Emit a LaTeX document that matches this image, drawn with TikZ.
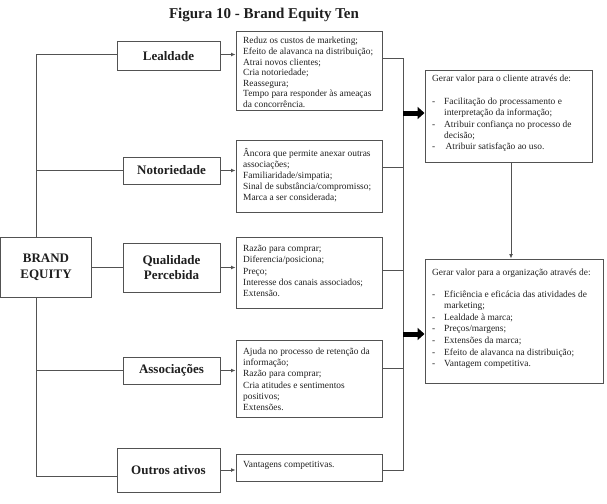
\documentclass[tikz,border=0pt]{standalone}
\usepackage{fontspec}
\setmainfont{Liberation Serif}
\usetikzlibrary{arrows.meta}
\definecolor{linecol}{gray}{0.32}
\definecolor{txtcol}{gray}{0.12}
\newcommand\dashitem[1]{\makebox[12pt][l]{-}#1}
\newcommand\dashcont[1]{\hspace*{12pt}#1}
\begin{document}
\begin{tikzpicture}[x=1pt,y=-1pt,
  box/.style={draw=linecol, line width=1pt, inner sep=0pt, text=txtcol},
  cat/.style={box, font=\fontsize{13}{15.8}\selectfont\bfseries, align=center},
  txt/.style={anchor=north west, inner sep=0pt, align=left, text=txtcol},
  conn/.style={draw=linecol, line width=1pt},
  arr/.style={conn, -{Latex[length=4.5pt,width=4pt]}},
  bigarr/.style={draw=black, line width=5pt, -{Triangle[length=7pt,width=12pt]}}]
\useasboundingbox (0,0) rectangle (607,503);

\node[font=\fontsize{15}{18}\selectfont\bfseries, text=txtcol] (title) at (264,15) {Figura 10 - Brand Equity Ten};

% main box
\node[cat, minimum width=91pt, minimum height=60pt] (be) at (46,267) {BRAND\\EQUITY};

% category boxes
\node[cat, minimum width=103pt, minimum height=28pt] (lc1) at (168.5,56) {Lealdade};
\node[cat, minimum width=97pt, minimum height=27pt] (lc2) at (171.5,170.5) {Notoriedade};
\node[cat, minimum width=97pt, minimum height=49pt] (lc3) at (171.5,267.5) {Qualidade\\Percebida};
\node[cat, minimum width=97pt, minimum height=27pt] (lc4) at (171.5,370.5) {Associações};
\node[cat, minimum width=103pt, minimum height=44pt] (lc5) at (168.5,470) {Outros ativos};

% description boxes
\node[box, minimum width=146pt, minimum height=78pt] (d1) at (309,71) {};
\node[box, minimum width=146pt, minimum height=72pt] (d2) at (309,176) {};
\node[box, minimum width=146pt, minimum height=71pt] (d3) at (309,272.5) {};
\node[box, minimum width=146pt, minimum height=77pt] (d4) at (309,378.5) {};
\node[box, minimum width=146pt, minimum height=27pt] (d5) at (309,467.5) {};

\node[txt, font=\fontsize{9.4}{10.6}\selectfont] (d1t) at (243,37.2)
  {Reduz os custos de marketing;\\Efeito de alavanca na distribuição;\\Atrai novos clientes;\\Cria notoriedade;\\Reassegura;\\Tempo para responder às ameaças\\da concorrência.};
\node[txt, font=\fontsize{9.4}{11.2}\selectfont] (d2t) at (243,147.8)
  {Âncora que permite anexar outras\\associações;\\Familiaridade/simpatia;\\Sinal de substância/compromisso;\\Marca a ser considerada;};
\node[txt, font=\fontsize{9.4}{11.4}\selectfont] (d3t) at (243,244.8)
  {Razão para comprar;\\Diferencia/posiciona;\\Preço;\\Interesse dos canais associados;\\Extensão.};
\node[txt, font=\fontsize{9.4}{11.3}\selectfont] (d4t) at (243,347.5)
  {Ajuda no processo de retenção da\\informação;\\Razão para comprar;\\Cria atitudes e sentimentos\\positivos;\\Extensões.};
\node[txt, font=\fontsize{9.4}{11.2}\selectfont] (d5t) at (243,461.5)
  {Vantagens competitivas.};

% value boxes
\node[box, minimum width=167pt, minimum height=92pt] (v1) at (508.5,116) {};
\node[box, minimum width=178pt, minimum height=124pt] (v2) at (514,321) {};

\node[txt, font=\fontsize{9.4}{11.4}\selectfont] (v1t) at (432,74.8)
  {Gerar valor para o cliente através de:\\[11.4pt]
   \dashitem{Facilitação do processamento e}\\
   \dashcont{interpretação da informação;}\\
   \dashitem{Atribuir confiança no processo de}\\
   \dashcont{decisão;}\\
   \dashitem{\hspace{1.5pt}Atribuir satisfação ao uso.}};
\node[txt, font=\fontsize{9.4}{11.55}\selectfont] (v2t) at (432,268.8)
  {Gerar valor para a organização através de:\\[10.2pt]
   \dashitem{Eficiência e eficácia das atividades de}\\
   \dashcont{marketing;}\\
   \dashitem{Lealdade à marca;}\\
   \dashitem{Preços/margens;}\\
   \dashitem{Extensões da marca;}\\
   \dashitem{Efeito de alavanca na distribuição;}\\
   \dashitem{Vantagem competitiva.}};

% left trunk
\coordinate (lt) at (36,0);
\coordinate (b1) at ([yshift=1.5pt]lc1.west);
\coordinate (b5) at ([yshift=-6pt]lc5.west);
\draw[conn] (lt |- be.north) -- (lt |- b1) -- (b1);
\draw[conn] (lt |- lc2.west) -- (lc2.west);
\draw[conn] (be.east) -- (be.east -| lc3.west);
\draw[conn] (lt |- lc4.west) -- (lc4.west);
\draw[conn] (lt |- be.south) -- (lt |- b5) -- (b5);

% arrows category -> description
\draw[arr] (b1 -| lc1.east) -- (b1 -| d1.west);
\draw[arr] (lc2.east) -- (lc2.east -| d2.west);
\draw[arr] (lc3.east) -- (lc3.east -| d3.west);
\draw[arr] (lc4.east) -- (lc4.east -| d4.west);
\draw[arr] (lc5.east) -- (lc5.east -| d5.west);

% right trunk
\coordinate (r1) at (403,59);
\coordinate (r2) at (403,167);
\coordinate (r3) at (403,270);
\coordinate (r4) at (403,368);
\coordinate (r5) at (403,470);
\draw[conn] (r1 -| d1.east) -- (r1) -- (r5) -- (r5 -| d5.east);
\draw[conn] (r2 -| d2.east) -- (r2);
\draw[conn] (r3 -| d3.east) -- (r3);
\draw[conn] (r4 -| d4.east) -- (r4);

% thick arrows
\coordinate (a1) at (403,113);
\coordinate (a2) at (403,334);
\draw[bigarr] (a1) -- (a1 -| v1.west);
\draw[bigarr] (a2) -- (a2 -| v2.west);

% value 1 -> value 2
\coordinate (vv) at ([xshift=2.5pt]v1.south);
\draw[arr] (vv) -- (vv |- v2.north);
\end{tikzpicture}
\end{document}
